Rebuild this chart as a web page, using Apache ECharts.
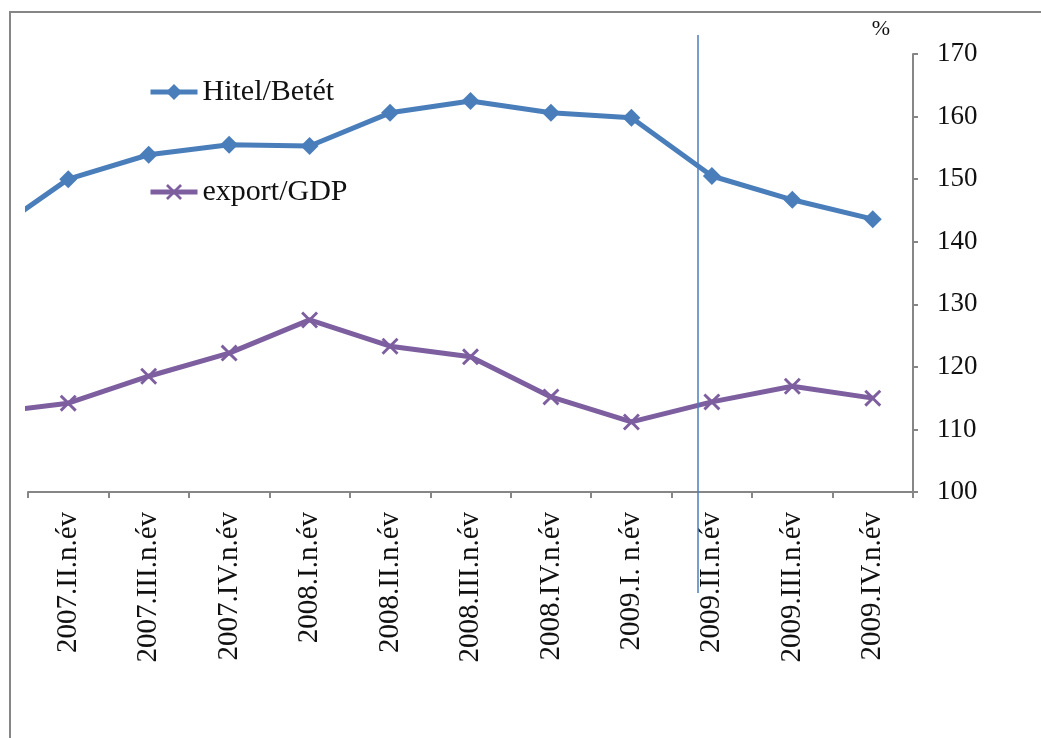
<!DOCTYPE html>
<html><head><meta charset="utf-8">
<script src="https://cdn.jsdelivr.net/npm/echarts@6/dist/echarts.min.js"></script>
<style>html,body{margin:0;padding:0;background:#fff}#c{width:1041px;height:738px}</style>
</head><body><div id="c"></div>
<script>
// first category lies just outside the visible axis (line enters from the left edge)
const categories = ['2007.I.n.év','2007.II.n.év','2007.III.n.év','2007.IV.n.év','2008.I.n.év','2008.II.n.év','2008.III.n.év','2008.IV.n.év','2009.I. n.év','2009.II.n.év','2009.III.n.év','2009.IV.n.év'];
const hitelBetet = [141.0,150.0,153.9,155.5,155.3,160.6,162.5,160.6,159.8,150.5,146.7,143.6];
const exportGdp  = [112.6,114.2,118.5,122.2,127.5,123.3,121.6,115.2,111.2,114.4,116.9,115.0];
const yTicks = {min:100, max:170, interval:10};

const BLUE = '#4a7ebb', PURPLE = '#7d5fa0', AX = '#868686';
const FONT = '"Liberation Serif", "DejaVu Serif", serif';
const XPATH = 'path://M0,1.2L1.2,0L5,3.8L8.8,0L10,1.2L6.2,5L10,8.8L8.8,10L5,6.2L1.2,10L0,8.8L3.8,5Z';

const chart = echarts.init(document.getElementById('c'), null, {renderer:'canvas'});
chart.setOption({
  animation:false,
  backgroundColor:'#fff',
  grid:{left:28, right:128, top:54, bottom:246, containLabel:false},
  legend:{
    orient:'vertical', left:148, top:77, padding:0, itemGap:70, itemWidth:47, itemHeight:20,
    lineStyle:{width:5},
    textStyle:{fontFamily:FONT, fontSize:30, color:'#111'},
    data:['Hitel/Betét','export/GDP']
  },
  xAxis:{
    type:'category', data:categories, boundaryGap:true, min:1,
    axisLine:{lineStyle:{color:AX, width:2}},
    axisTick:{show:true, length:6, lineStyle:{color:AX, width:2}},
    axisLabel:{rotate:90, margin:20, fontFamily:FONT, fontSize:29, color:'#111', interval:0}
  },
  yAxis:{
    type:'value', position:'right', min:yTicks.min, max:yTicks.max, interval:yTicks.interval,
    name:'%', nameLocation:'end', nameGap:14,
    nameTextStyle:{fontFamily:FONT, fontSize:22, color:'#111', align:'right', padding:[0,23,0,0]},
    axisLine:{show:true, lineStyle:{color:AX, width:2}},
    axisTick:{show:true, length:5, lineStyle:{color:AX, width:2}},
    splitLine:{show:false},
    axisLabel:{margin:24, fontFamily:FONT, fontSize:27, color:'#111'}
  },
  series:[
    {name:'Hitel/Betét', type:'line', data:hitelBetet, clip:true,
     symbol:'diamond', symbolSize:18, showAllSymbol:true,
     lineStyle:{color:BLUE, width:5}, itemStyle:{color:BLUE}},
    {name:'export/GDP', type:'line', data:exportGdp, clip:true,
     symbol:XPATH, symbolSize:17, showAllSymbol:true,
     lineStyle:{color:PURPLE, width:5}, itemStyle:{color:PURPLE}}
  ],
  graphic:[
    {type:'rect', shape:{x:10, y:12, width:1200, height:900}, style:{fill:'none', stroke:AX, lineWidth:2}, silent:true, z:-1},
    {type:'line', shape:{x1:698, y1:35, x2:698, y2:593}, style:{stroke:BLUE, lineWidth:1.5}, silent:true, z:10}
  ]
});
</script></body></html>
